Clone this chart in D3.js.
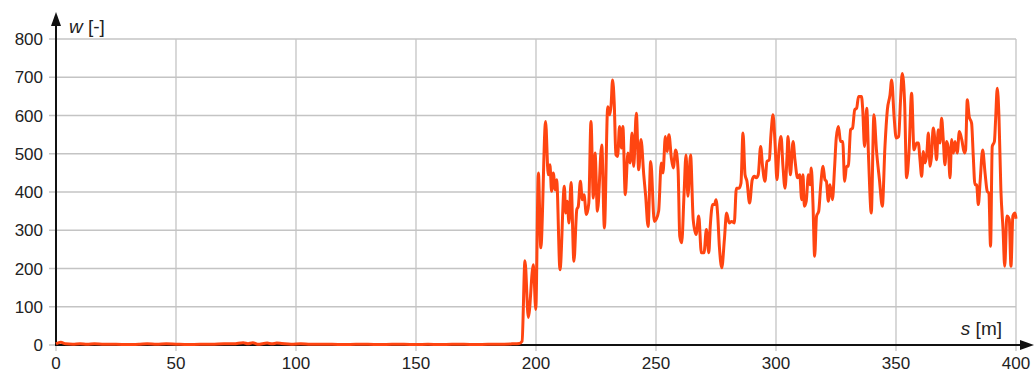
<!DOCTYPE html>
<html>
<head>
<meta charset="utf-8">
<script src="https://cdn.jsdelivr.net/npm/d3@7"></script>
<style>
  body { margin: 0; background: #fff; }
  svg text { font-family: "Liberation Sans", Arial, sans-serif; fill: #222; }
</style>
</head>
<body>
<svg id="chart"></svg>
<script>
var w = 1034;
var h = 373;

// tick values
var xTicks = [0, 50, 100, 150, 200, 250, 300, 350, 400];
var yTicks = [0, 100, 200, 300, 400, 500, 600, 700, 800];

// distance s [m]
var sVals = [0, 2, 4, 7, 10, 13, 16, 20, 25, 30, 35, 38, 42, 46, 50, 55, 60, 65, 70, 74, 78, 80, 82, 84, 88, 90, 92, 94, 98,
  102, 106, 110, 115, 120, 125, 130, 135, 140, 145, 150, 155, 160, 165, 170, 175, 180, 185, 190, 193, 194.2,
  195.4, 196.8, 198.9, 199.9, 201, 202, 204, 205.1, 205.8, 206.5, 207.2, 208, 208.6, 210, 211.8, 212.4, 213, 213.75,
  214.6, 215.8, 217, 217.6, 218.5, 219.3, 220, 221, 222, 222.9, 223.9, 224.6, 225.6, 227.4, 228.5, 229.9, 230.7,
  231.3, 231.9, 232.6, 233.3, 234, 234.8, 235.6, 236.2, 237.2, 238.3, 239.2, 240, 240.7, 241.8, 242.8, 243.75,
  244.9, 245.7, 246.7, 247.8, 249.3, 250, 251.1, 252.2, 252.9, 253.9, 254.6, 255.4, 256.4, 257.2, 258.2, 259.2,
  259.9, 260.7, 261.7, 262.5, 263.3, 264.4, 265.5, 266.7, 267.8, 268.9, 270, 271, 272, 272.6, 273.6, 274.4,
  275, 275.7, 276.4, 277.4, 278.5, 279.4, 280.5, 281.5, 282.6, 283.5, 284.6, 285.4, 286.25, 287.1, 287.9, 289,
  290.1, 291, 291.8, 292.6, 293.6, 294.4, 295.4, 296.25, 297.2, 297.9, 298.75, 299.6, 300.4, 301.25, 302.1, 302.9,
  303.75, 304.6, 305, 306, 307.1, 307.9, 309, 309.9, 310.7, 311.25, 311.8, 312.6, 313.5, 314.2, 314.7, 315.4, 316.1,
  316.9, 317.8, 318.6, 319.6, 320.4, 321, 321.8, 322.5, 323.5, 324.4, 325.1, 326, 326.9, 327.8, 328.6, 329.4,
  330.1, 331.1, 331.9, 332.8, 333.6, 334.4, 335.6, 336.1, 336.9, 337.8, 338.6, 339.7, 340.8, 341.9, 343.1, 344.3,
  345.4, 346.4, 347.5, 348.2, 349.2, 350.1, 351.1, 351.9, 352.6, 353.6, 354.4, 355.4, 356.5, 357.5,
  358.6, 359.3, 360, 360.7, 361.4, 362.1, 362.8, 363.5, 364.2, 364.8, 365.5, 366.2, 366.9, 367.6, 368.3, 369,
  369.7, 370.4, 371.1, 371.8, 372.5, 373.2, 373.9, 374.6, 375.5, 376.4, 377.4, 378.5, 379, 379.7, 380.5, 381.5,
  382.2, 382.9, 383.6, 384.3, 385.1, 386.1, 387.1, 388, 388.7, 389.4, 390.1, 391, 391.5, 392.2, 392.9, 393.7,
  394.6, 395.3, 396.2, 397.2, 397.9, 398.7, 399.6, 400];

// w [-]
var wVals = [3, 7, 3, 2, 3, 2, 3, 2, 2, 1, 2, 3, 2, 3, 2, 1, 2, 2, 3, 3, 6, 3, 6, 2, 5, 3, 5, 4, 2,
  3, 2, 2, 2, 1, 2, 2, 1, 2, 2, 1, 2, 1, 2, 2, 1, 2, 2, 3, 4, 10,
  220, 72, 210, 93, 450, 254, 584, 445, 471, 402, 450, 406, 432, 197, 415, 345, 376, 319,
  425, 219, 354, 362, 428, 380, 393, 341, 371, 584, 384, 502, 350, 523, 306, 623, 602,
  628, 693, 632, 497, 493, 571, 515, 571, 393, 502, 476, 554, 467, 606, 458, 537,
  445, 389, 310, 480, 323, 328, 350, 476, 450, 545, 506, 550, 489, 463, 510, 458,
  284, 267, 397, 497, 389, 497, 328, 289, 337, 241, 241, 302, 241, 310, 367, 367,
  380, 341, 258, 202, 276, 345, 319, 323, 319, 410, 410, 423, 554, 445, 428, 371,
  432, 441, 437, 445, 519, 467, 428, 480, 484, 550, 602, 528, 432, 510, 545, 467,
  410, 493, 545, 445, 532, 484, 437, 445, 380, 445, 363, 376, 445, 419, 463, 371, 232,
  337, 350, 415, 467, 432, 428, 376, 419, 380, 463, 541, 571, 532, 532, 428, 467,
  467, 563, 567, 615, 619, 650, 650, 619, 519, 619, 484, 345, 602, 506, 432, 363,
  519, 615, 654, 693, 597, 541, 545, 641, 710, 632, 437, 502, 658, 510,
  528, 528, 484, 441, 506, 476, 497, 554, 467, 493, 567, 537, 484, 563, 528, 593,
  537, 471, 532, 515, 437, 537, 502, 532, 502, 558, 537, 502, 510, 641, 597, 580,
  493, 419, 419, 367, 432, 510, 450, 402, 397, 258, 519, 532, 589, 671, 597, 406,
  302, 206, 337, 328, 206, 337, 345, 330];

var data = sVals.map(function(s, i) { return { s: s, w: wVals[i] }; });

var svg = d3.select('#chart').attr("width", w).attr("height", h);

var x = d3.scaleLinear().domain([0, 400]).range([56, 1016]);
var y = d3.scaleLinear().domain([0, 800]).range([345, 39]);

// grid
svg.append("g").selectAll("line.hgrid").data(yTicks).enter().append("line")
  .attr("x1", 49).attr("x2", x(400))
  .attr("y1", function(d) { return y(d); }).attr("y2", function(d) { return y(d); })
  .attr("stroke", "#c4c4c4").attr("stroke-width", 1.3);

svg.append("g").selectAll("line.vgrid").data(xTicks).enter().append("line")
  .attr("x1", function(d) { return x(d); }).attr("x2", function(d) { return x(d); })
  .attr("y1", y(800)).attr("y2", 351)
  .attr("stroke", "#c4c4c4").attr("stroke-width", 1.3);

// tick labels
svg.append("g").selectAll("text").data(yTicks).enter().append("text")
  .attr("x", 43).attr("y", function(d) { return y(d) + 6; })
  .attr("text-anchor", "end").style("font-size", "17px")
  .text(function(d) { return d; });

svg.append("g").selectAll("text").data(xTicks).enter().append("text")
  .attr("x", function(d) { return x(d); }).attr("y", 369)
  .attr("text-anchor", "middle").style("font-size", "17px")
  .text(function(d) { return d; });

// axes with arrows
svg.append("line").attr("x1", x(0)).attr("x2", x(0)).attr("y1", 346).attr("y2", 22)
  .attr("stroke", "#111").attr("stroke-width", 2);
svg.append("path").attr("d", "M" + x(0) + ",12 L" + (x(0) - 5) + ",26 L" + (x(0) + 5) + ",26 Z").attr("fill", "#111");

svg.append("line").attr("x1", x(0)).attr("x2", 1022).attr("y1", 345).attr("y2", 345)
  .attr("stroke", "#111").attr("stroke-width", 2);
svg.append("path").attr("d", "M1034,345 L1020,340 L1020,350 Z").attr("fill", "#111");

// axis titles
var wt = svg.append("text").attr("x", 69).attr("y", 33).style("font-size", "19px");
wt.append("tspan").style("font-style", "italic").text("w");
wt.append("tspan").text(" [-]");

var st = svg.append("text").attr("x", 1002).attr("y", 335).attr("text-anchor", "end").style("font-size", "19px");
st.append("tspan").style("font-style", "italic").text("s");
st.append("tspan").text(" [m]");

// series line
var line = d3.line()
  .x(function(d) { return x(d.s); })
  .y(function(d) { return y(d.w); })
  .curve(d3.curveMonotoneX);

svg.append("path").datum(data)
  .attr("d", line)
  .attr("fill", "none")
  .attr("stroke", "#ff4511")
  .attr("stroke-width", 3)
  .attr("stroke-linejoin", "round");
</script>
</body>
</html>
